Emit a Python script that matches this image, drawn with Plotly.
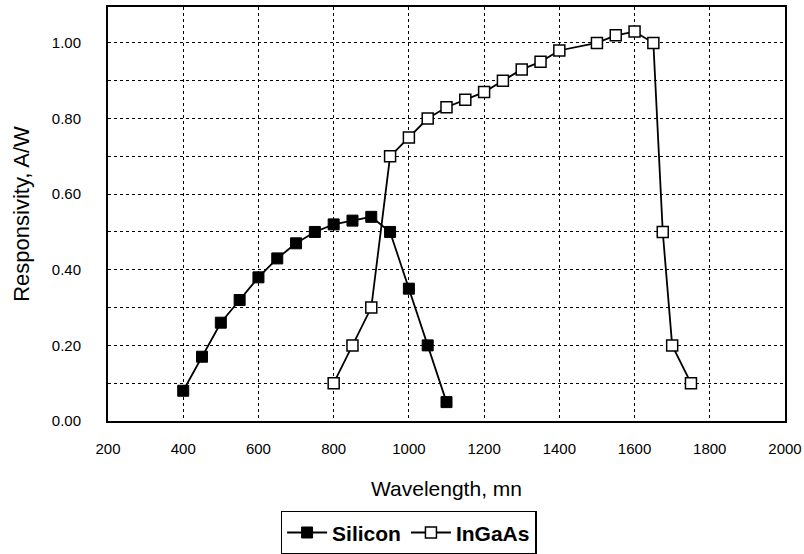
import plotly.graph_objects as go

si_wl = [400, 450, 500, 550, 600, 650, 700, 750, 800, 850, 900, 950, 1000, 1050, 1100]
si_resp = [0.08, 0.17, 0.26, 0.32, 0.38, 0.43, 0.47, 0.50, 0.52, 0.53, 0.54, 0.50, 0.35, 0.20, 0.05]

ingaas_wl = [800, 850, 900, 950, 1000, 1050, 1100, 1150, 1200, 1250, 1300, 1350, 1400, 1500, 1550, 1600, 1650, 1675, 1700, 1750]
ingaas_resp = [0.10, 0.20, 0.30, 0.70, 0.75, 0.80, 0.83, 0.85, 0.87, 0.90, 0.93, 0.95, 0.98, 1.00, 1.02, 1.03, 1.00, 0.50, 0.20, 0.10]

x_ticks = [200, 400, 600, 800, 1000, 1200, 1400, 1600, 1800, 2000]
y_ticks = [0.0, 0.1, 0.2, 0.3, 0.4, 0.5, 0.6, 0.7, 0.8, 0.9, 1.0]
y_tick_text = ["0.00", "", "0.20", "", "0.40", "", "0.60", "", "0.80", "", "1.00"]

font_family = "Liberation Sans, Arial, sans-serif"

fig = go.Figure()
fig.add_trace(go.Scatter(
    x=si_wl, y=si_resp, name="Silicon", mode="lines+markers",
    line=dict(color="black", width=1.8),
    marker=dict(symbol="square", size=11, color="black", line=dict(color="black", width=1)),
))
fig.add_trace(go.Scatter(
    x=ingaas_wl, y=ingaas_resp, name="InGaAs", mode="lines+markers",
    line=dict(color="black", width=1.8),
    marker=dict(symbol="square", size=11, color="white", line=dict(color="black", width=1.5)),
))

fig.update_layout(
    width=804, height=554,
    margin=dict(l=108, r=19, t=7, b=133, autoexpand=False),
    paper_bgcolor="white", plot_bgcolor="white",
    font=dict(family=font_family, color="black"),
    showlegend=True,
    legend=dict(
        orientation="h", x=0.444, xanchor="center", y=-0.217, yanchor="top",
        bordercolor="black", borderwidth=1.5, bgcolor="white",
        font=dict(family=font_family, size=21, color="black", weight="bold"),
        itemwidth=40, tracegroupgap=0,
    ),
    xaxis=dict(
        range=[200, 2000], tickvals=x_ticks, ticktext=[str(v) for v in x_ticks],
        showgrid=True, gridcolor="black", griddash="dot", gridwidth=1,
        showline=True, linecolor="black", linewidth=2, mirror=True,
        zeroline=False, ticks="", ticklabelstandoff=13, automargin=False,
        tickfont=dict(size=15, family=font_family),
        title=dict(text="Wavelength, mn", font=dict(size=21, family=font_family), standoff=25),
    ),
    yaxis=dict(
        range=[0, 1.095], tickvals=y_ticks, ticktext=y_tick_text,
        showgrid=True, gridcolor="black", griddash="dot", gridwidth=1,
        showline=True, linecolor="black", linewidth=2, mirror=True,
        zeroline=False, ticks="", ticklabelstandoff=22, automargin=False,
        tickfont=dict(size=15, family=font_family),
        title=dict(text="Responsivity, A/W", font=dict(size=22, family=font_family), standoff=16),
    ),
)

fig.write_html("out.html")
